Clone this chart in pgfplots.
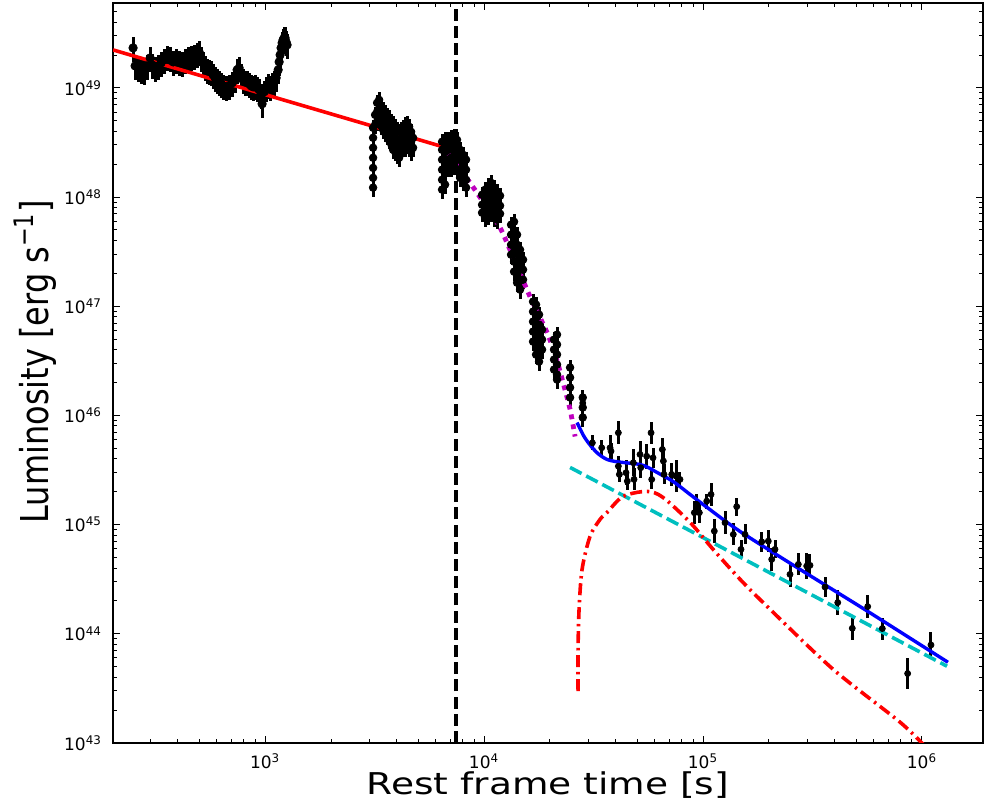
\documentclass[border=0pt]{standalone}
\usepackage{fontspec}
\setmainfont{DejaVu Sans}
\usepackage{pgfplots}
\pgfplotsset{compat=1.18}
\definecolor{mplm}{RGB}{191,0,191}
\definecolor{mplc}{RGB}{0,191,191}

\begin{document}
\begin{tikzpicture}
\path[use as bounding box] (-56.5pt,-32.5pt) rectangle (435.5pt,371.5pt);
\begin{axis}[
  scale only axis, width=435pt, height=370pt,
  xmode=log, ymode=log,
  xmin=202, xmax=1.9e6, ymin=1e43, ymax=6e49,
  tick align=inside, xtick pos=both, ytick pos=both,
  major tick length=3.3pt, minor tick length=2pt,
  tick style={black, line width=0.5pt},
  axis line style={line width=0.6pt},
  /pgf/number format/assume math mode=true,
  log number format basis/.code 2 args={#1\textsuperscript{\pgfmathprintnumber{#2}}},
  tick label style={font=\fontsize{8.5}{10}\selectfont},
  xticklabel style={yshift=-2pt},
  yticklabel style={xshift=-2pt},
  xlabel={\scalebox{1.25}[1]{Rest frame time [s]}},
  ylabel={\scalebox{1}[1.2]{Luminosity [erg s\textsuperscript{−1}]}},
  xlabel style={font=\fontsize{15}{18}\selectfont, at={(axis description cs:0.5,0)}, anchor=center, yshift=-21pt},
  ylabel style={font=\fontsize{16}{19}\selectfont, at={(axis description cs:0,0.515)}, anchor=center, yshift=39pt},
]
% early dense light curve
\addplot[only marks, mark=*, mark size=2.1pt, black,
  error bars/.cd, y dir=both, y fixed relative=0.25, error mark=none,
  error bar style={line width=1.5pt}] table {
t L
249.5 2.323e49
254.9 1.589e49
263.1 1.524e49
271.5 1.461e49
280.2 1.431e49
289.2 1.589e49
298.5 1.881e49
304.8 1.623e49
314.6 1.524e49
324.6 1.589e49
335.0 1.693e49
345.8 1.804e49
356.9 1.921e49
368.4 1.881e49
380.2 1.729e49
392.4 1.804e49
405.0 1.729e49
417.8 1.693e49
431.2 1.804e49
445.1 1.881e49
459.4 1.921e49
474.1 1.963e49
489.3 2.047e49
499.6 2.135e49
510.3 1.881e49
521.1 1.693e49
532.1 1.556e49
543.4 1.461e49
554.9 1.431e49
566.6 1.401e49
578.7 1.315e49
591.0 1.234e49
603.5 1.184e49
616.6 1.135e49
629.6 1.088e49
643.0 1.043e49
663.7 1.021e49
684.9 1.043e49
706.9 1.111e49
729.5 1.209e49
745.0 1.461e49
761.0 1.524e49
777.1 1.315e49
793.5 1.184e49
810.4 1.135e49
827.6 1.135e49
845.1 1.088e49
863.1 1.043e49
881.4 1.021e49
900.0 1.043e49
919.3 1.0e49
938.9 9.59e48
958.8 8.63e48
969.0 7.14e48
989.5 9.19e48
1010.6 1.0e49
1032 1.065e49
1054 1.021e49
1076.5 1.088e49
1099 1.135e49
1123 1.234e49
1147 1.461e49
1159 1.729e49
1171 2.004e49
1183 2.323e49
1196 2.580e49
1208 2.750e49
1221 2.868e49
1234 2.868e49
1247 2.636e49
1260 2.474e49
};
% later dense segments
\addplot[only marks, mark=*, mark size=1.9pt, black,
  error bars/.cd, y dir=both, y fixed relative=0.18, error mark=none,
  error bar style={line width=1.5pt}] table {
t L
3113 1.22e48
3113 1.50e48
3113 1.85e48
3113 2.29e48
3113 2.83e48
3113 3.49e48
3113 4.31e48
3179 5.66e48
3179 4.59e48
3247 7.29e48
3247 6.03e48
3247 4.89e48
3316 7.77e48
3316 6.29e48
3316 5.10e48
3386 6.85e48
3386 5.54e48
3386 4.49e48
3458 6.29e48
3458 5.10e48
3458 4.13e48
3531 5.91e48
3531 4.79e48
3531 3.88e48
3607 5.54e48
3607 4.49e48
3607 3.64e48
3683 5.32e48
3683 4.13e48
3683 3.34e48
3762 4.89e48
3762 3.79e48
3762 3.07e48
3842 4.69e48
3842 3.64e48
3842 2.71e48
3923 4.40e48
3923 3.49e48
3923 2.60e48
4006 4.13e48
4006 3.34e48
4006 2.44e48
4092 3.96e48
4092 3.21e48
4092 2.29e48
4178 4.13e48
4178 3.34e48
4178 2.71e48
4267 4.31e48
4267 3.49e48
4267 2.83e48
4358 4.59e48
4358 3.72e48
4358 2.83e48
4450 4.69e48
4450 3.79e48
4450 3.01e48
4545 4.40e48
4545 3.56e48
4545 2.83e48
4642 3.96e48
4642 3.21e48
4642 2.60e48
4740 3.49e48
4740 2.83e48
6430 1.17e48
6430 1.44e48
6430 1.78e48
6430 2.20e48
6430 2.71e48
6430 3.21e48
6636 1.30e48
6636 1.70e48
6636 2.20e48
6636 2.83e48
6636 3.34e48
6849 3.34e48
6849 2.71e48
6849 2.20e48
6849 1.85e48
7069 3.49e48
7069 2.83e48
7069 2.29e48
7069 1.85e48
7295 3.56e48
7295 2.885e48
7295 2.34e48
7295 1.93e48
7529 3.34e48
7529 2.71e48
7529 2.20e48
7529 1.78e48
7771 2.71e48
7771 2.20e48
7771 1.78e48
7771 1.50e48
8020 2.44e48
8020 1.97e48
8020 1.60e48
8020 1.38e48
8277 2.20e48
8277 1.78e48
8277 1.44e48
8277 1.22e48
9792 1.050e48
9792 8.502e47
9792 7.184e47
10107 1.166e48
10107 9.447e47
10107 7.652e47
10107 6.465e47
10430 1.269e48
10430 1.028e48
10430 8.325e47
10430 6.744e47
10765 1.351e48
10765 1.095e48
10765 8.868e47
10765 7.184e47
11109 1.216e48
11109 9.854e47
11109 7.981e47
11109 6.465e47
11466 1.118e48
11466 9.057e47
11466 7.336e47
11466 6.199e47
11833 1.028e48
11833 8.325e47
11833 7.034e47
13285 5.580e47
13285 4.519e47
13285 3.661e47
13285 2.966e47
13709 5.943e47
13709 4.814e47
13709 3.899e47
13709 3.159e47
13709 2.559e47
13709 2.073e47
14148 4.519e47
14148 3.661e47
14148 2.966e47
14148 2.402e47
14148 1.946e47
14148 1.643e47
14602 3.294e47
14602 2.669e47
14602 2.162e47
14602 1.751e47
14602 1.418e47
15070 2.669e47
15070 2.162e47
15070 1.751e47
16740 1.102e47
16740 8.925e46
16740 7.229e46
16740 5.855e46
16740 4.743e46
17279 1.034e47
17279 8.377e46
17279 6.786e46
17279 5.497e46
17279 4.453e46
17279 3.607e46
17833 8.377e46
17833 6.786e46
17833 5.497e46
17833 4.453e46
17833 3.607e46
17833 3.112e46
18405 6.107e46
18405 4.947e46
18405 4.007e46
20870 4.947e46
20870 4.007e46
20870 3.246e46
20870 2.629e46
21540 5.497e46
21540 4.453e46
21540 3.607e46
21540 2.921e46
21540 2.367e46
21540 2.130e46
24710 2.743e46
24710 2.222e46
24710 1.800e46
24710 1.458e46
28230 1.458e46
28230 1.181e46
28230 9.568e45
};
% late sparse points
\addplot[only marks, mark=*, mark size=1.5pt, black,
  error bars/.cd, y dir=both, y explicit relative, error mark=none,
  error bar style={line width=1.5pt}]
  table[x=t, y=L, y error plus=ep, y error minus=em] {
t L ep em
28230 1.30e46 0.234 0.190
31230 5.61e45 0.171 0.146
34460 5.05e45 0.184 0.155
37620 5.05e45 0.301 0.231
38000 4.70e45 0.184 0.155
41050 6.93e45 0.279 0.218
41050 3.43e45 0.234 0.190
41490 2.88e45 0.184 0.155
44490 2.985e45 0.301 0.231
45100 2.50e45 0.209 0.173
48050 3.685e45 0.323 0.245
48400 2.592e45 0.260 0.207
51560 4.39e45 0.323 0.245
51940 3.317e45 0.234 0.190
55300 4.232e45 0.301 0.231
57900 6.93e45 0.260 0.207
58300 2.592e45 0.234 0.190
59100 4.093e45 0.234 0.190
65200 4.875e45 0.279 0.218
65900 3.82e45 0.279 0.218
66350 2.88e45 0.234 0.190
71950 2.88e45 0.279 0.218
75300 2.778e45 0.395 0.283
78500 2.592e45 0.171 0.146
91300 1.285e45 0.279 0.218
93600 1.530e45 0.234 0.190
96200 1.285e45 0.234 0.190
104000 1.641e45 0.171 0.146
108800 1.890e45 0.279 0.218
112600 8.72e44 0.279 0.218
126000 1.041e45 0.279 0.218
137500 8.13e44 0.260 0.207
142500 1.46e45 0.209 0.173
149100 5.93e44 0.209 0.173
155500 8.13e44 0.234 0.190
185400 6.95e44 0.234 0.190
198700 7.06e44 0.260 0.207
205900 4.80e44 0.279 0.218
213200 5.93e44 0.209 0.173
249600 3.50e44 0.301 0.231
272400 4.325e44 0.260 0.207
297500 4.172e44 0.323 0.245
308000 4.234e44 0.260 0.207
360700 2.68e44 0.234 0.190
412300 1.93e44 0.301 0.231
480500 1.123e44 0.279 0.218
565000 1.774e44 0.279 0.218
659000 1.116e44 0.260 0.207
860000 4.325e43 0.395 0.283
1099000 7.90e43 0.323 0.245
};
% model curves
\addplot[red, line width=1.8pt] coordinates {(202.2,2.227e49) (6430,2.904e48)};
\addplot[mplm, line width=2.4pt, dash pattern=on 2.4pt off 2.6pt, smooth] coordinates {
(6430,2.885e48) (8365,1.470e48) (10107,8.502e47) (11833,5.237e47) (13854,2.559e47)
(16218,1.224e47) (19397,5.734e46) (21320,3.386e46) (22951,2.000e46) (24710,1.132e46) (26040,6.411e45)};
\addplot[mplc, line width=1.8pt, dash pattern=on 6.5pt off 2.6pt] coordinates {(24710,3.337e45) (1.301e6,5.043e43)};
\addplot[red, line width=1.8pt, dash pattern=on 6pt off 2.4pt on 1.2pt off 2.4pt, smooth, tension=0.5] coordinates {
(26870,2.98e43) (26870,7.21e43) (27160,1.675e44) (28030,3.89e44) (30480,7.80e44) (33880,1.117e45)
(36480,1.294e45) (43150,1.811e45) (55460,2.014e45) (65610,1.774e45) (87300,1.047e45)
(111200,5.93e44) (147600,3.155e44) (195900,1.786e44) (392600,4.73e43) (794300,1.549e43) (1.049e6,8.99e42)};
\addplot[blue, line width=1.7pt, smooth, tension=0.5] coordinates {
(26590,8.610e45) (28620,6.411e45) (31130,5.085e45) (33510,4.389e45) (36440,3.950e45) (39650,3.787e45)
(43120,3.708e45) (51560,3.555e45) (56100,3.337e45) (61660,3.003e45) (72950,2.484e45) (87220,1.890e45)
(104300,1.437e45) (147500,8.666e44) (277300,3.890e44) (555100,1.641e44) (1.314e6,5.483e43)};
\addplot[black, line width=1.9pt, dash pattern=on 6pt off 2.6pt] coordinates {(7450,1e43) (7450,6e49)};
\end{axis}
\end{tikzpicture}
\end{document}
